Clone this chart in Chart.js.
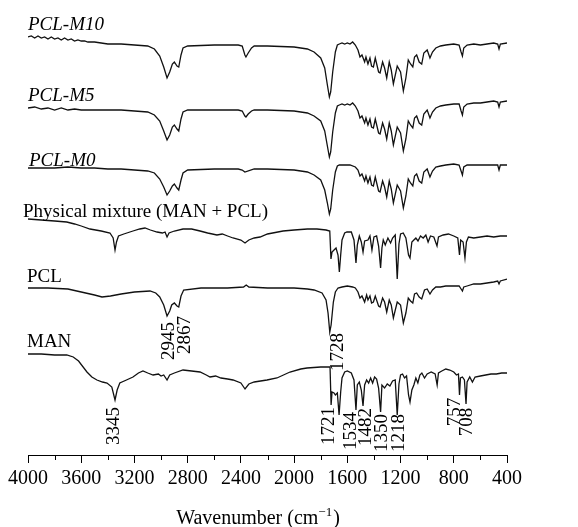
<!DOCTYPE html>
<html>
<head>
<meta charset="utf-8">
<script src="https://cdn.jsdelivr.net/npm/chart.js@4.4.1/dist/chart.umd.min.js"></script>
<style>
  html, body { margin: 0; padding: 0; background: #fff; }
  #ftir { display: block; }
</style>
</head>
<body>
<canvas id="ftir" width="578" height="527"></canvas>
<script>
// FTIR spectra, offset transmittance (arbitrary units), [wavenumber, value]
const pclM10 = [
    [4000, 418], [3975, 419], [3950, 417], [3925, 419], [3900, 417], [3875, 418], [3850, 416],
    [3825, 418], [3800, 416], [3775, 417], [3750, 415], [3725, 417], [3700, 415], [3675, 416],
    [3650, 414], [3625, 415], [3600, 414], [3575, 414], [3550, 413], [3500, 413], [3450, 412],
    [3400, 411], [3300, 411],
    [3200, 410], [3100, 409], [3050, 406], [3010, 399], [2980, 388], [2955, 377], [2935, 383],
    [2915, 391], [2900, 393], [2880, 389], [2867, 388], [2850, 400], [2835, 407], [2800, 409],
    [2600, 410], [2420, 410], [2390, 409], [2370, 400], [2362, 398], [2345, 402], [2320, 407],
    [2300, 409], [2200, 409], [2000, 408], [1900, 406], [1850, 403], [1800, 397], [1770, 387],
    [1750, 370], [1735, 358], [1725, 363], [1710, 383], [1690, 403], [1675, 410], [1660, 411],
    [1640, 412], [1620, 411], [1600, 412], [1580, 411], [1560, 413], [1540, 410], [1520, 405],
    [1505, 398], [1490, 400], [1470, 393], [1460, 398], [1445, 391], [1430, 397], [1418, 389],
    [1404, 388], [1390, 397], [1365, 383], [1354, 382], [1335, 393], [1320, 387], [1304, 377],
    [1285, 393], [1270, 385], [1254, 371], [1225, 389], [1200, 383], [1179, 364], [1160, 377],
    [1142, 395], [1125, 391], [1108, 388], [1095, 398], [1079, 400], [1060, 393], [1041, 391],
    [1025, 402], [1000, 405], [979, 397], [960, 403], [935, 407], [900, 409], [860, 410],
    [800, 411], [760, 410], [745, 403], [735, 399], [725, 407], [700, 410], [650, 411],
    [600, 410], [550, 411], [500, 412], [470, 411], [460, 406], [450, 411], [400, 412]
];

const pclM5 = [
    [4000, 347], [3950, 348], [3900, 346], [3850, 347], [3800, 345], [3750, 347], [3700, 345],
    [3650, 346], [3600, 345], [3500, 345], [3400, 345],
    [3300, 345], [3200, 344], [3100, 343], [3050, 340], [3010, 334], [2980, 324], [2955, 315],
    [2935, 320], [2915, 328], [2900, 330], [2880, 326], [2867, 324], [2850, 336], [2835, 343],
    [2800, 345], [2600, 345], [2420, 345], [2390, 344], [2370, 339], [2362, 338], [2345, 341],
    [2320, 344], [2300, 345], [2200, 345], [2000, 344], [1900, 342], [1850, 339], [1800, 334],
    [1770, 324], [1750, 309], [1735, 298], [1725, 303], [1710, 323], [1690, 342], [1675, 349],
    [1660, 350], [1640, 351], [1620, 350], [1600, 351], [1580, 350], [1560, 352], [1540, 349],
    [1520, 344], [1505, 337], [1490, 339], [1470, 332], [1460, 337], [1445, 330], [1430, 336],
    [1418, 328], [1404, 327], [1390, 336], [1365, 322], [1354, 321], [1335, 332], [1320, 326],
    [1304, 316], [1285, 332], [1270, 324], [1254, 310], [1225, 328], [1200, 322], [1179, 304],
    [1160, 316], [1142, 334], [1125, 330], [1108, 327], [1095, 337], [1079, 339], [1060, 332],
    [1041, 330], [1025, 341], [1000, 345], [979, 337], [960, 343], [935, 347], [900, 349],
    [860, 350], [800, 351], [760, 351], [745, 344], [735, 340], [725, 348], [700, 351],
    [650, 352], [600, 352], [550, 353], [500, 354], [470, 353], [460, 348], [450, 353], [400, 354]
];

const pclM0 = [
    [4000, 287], [3900, 287], [3800, 287], [3700, 288], [3600, 287], [3500, 287], [3400, 286],
    [3300, 286], [3200, 285], [3100, 284], [3050, 282], [3010, 276], [2980, 268], [2955, 260],
    [2935, 264], [2915, 269], [2900, 271], [2880, 267], [2867, 265], [2850, 275], [2835, 282],
    [2800, 285], [2600, 286], [2420, 286], [2390, 285], [2370, 283], [2300, 286], [2200, 286],
    [2000, 285], [1900, 283], [1850, 280], [1800, 275], [1770, 265], [1750, 252], [1735, 241],
    [1725, 246], [1710, 265], [1690, 283], [1675, 289], [1660, 290], [1620, 290], [1580, 290],
    [1540, 288], [1520, 285], [1505, 279], [1490, 281], [1470, 274], [1460, 279], [1445, 272],
    [1430, 278], [1418, 270], [1404, 269], [1390, 278], [1365, 264], [1354, 263], [1335, 274],
    [1320, 268], [1304, 258], [1285, 274], [1270, 266], [1254, 252], [1225, 270], [1200, 264],
    [1179, 247], [1160, 259], [1142, 276], [1125, 272], [1108, 269], [1095, 279], [1079, 281],
    [1060, 274], [1041, 272], [1025, 283], [1000, 286], [979, 278], [960, 284], [935, 288],
    [900, 289], [860, 290], [800, 291], [760, 290], [745, 284], [735, 280], [725, 288],
    [700, 290], [600, 290], [500, 290], [470, 290], [460, 285], [450, 290], [400, 290]
];

const physicalMixture = [
    [4000, 236], [3900, 235], [3800, 234], [3709, 233], [3650, 231], [3600, 229], [3534, 226],
    [3450, 224], [3384, 222], [3360, 217], [3346, 205], [3335, 213], [3320, 219], [3280, 221],
    [3211, 224], [3160, 226], [3121, 227], [3080, 225], [3030, 223], [2990, 222], [2970, 223],
    [2955, 218], [2940, 222], [2900, 224], [2835, 226], [2770, 226], [2707, 224], [2650, 222],
    [2580, 220], [2540, 221], [2500, 219], [2459, 217], [2400, 215], [2369, 212], [2340, 215],
    [2300, 217], [2256, 218], [2200, 221], [2083, 224], [2000, 225], [1900, 226], [1828, 226],
    [1760, 225], [1732, 224], [1723, 196], [1715, 203], [1700, 205], [1685, 207], [1670, 200],
    [1660, 183], [1650, 200], [1640, 215], [1620, 222], [1603, 223], [1570, 223], [1550, 215],
    [1535, 192], [1525, 210], [1510, 219], [1495, 213], [1482, 203], [1470, 214], [1445, 215],
    [1430, 219], [1415, 205], [1400, 218], [1380, 219], [1365, 209], [1350, 187], [1340, 207],
    [1330, 215], [1315, 210], [1295, 217], [1275, 212], [1260, 217], [1240, 220], [1225, 176],
    [1212, 211], [1200, 221], [1180, 222], [1160, 217], [1140, 200], [1129, 197], [1115, 213],
    [1100, 215], [1085, 217], [1069, 214], [1050, 219], [1030, 217], [1010, 220], [993, 213],
    [975, 219], [950, 218], [926, 209], [915, 218], [880, 220], [840, 221], [800, 219],
    [770, 217], [757, 200], [748, 215], [730, 213], [716, 197], [705, 213], [690, 218],
    [650, 217], [600, 218], [550, 219], [500, 218], [450, 219], [400, 219]
];

const pcl = [
    [4000, 167], [3850, 167], [3700, 166], [3600, 163], [3500, 160], [3444, 158], [3380, 159],
    [3300, 161], [3200, 163], [3083, 164], [3040, 162], [3010, 158], [2980, 150], [2955, 139],
    [2935, 144], [2920, 150], [2900, 152], [2880, 149], [2867, 148], [2850, 159], [2830, 165],
    [2700, 167], [2500, 167], [2380, 168], [2360, 170], [2340, 168], [2200, 167], [2000, 167],
    [1900, 166], [1850, 165], [1790, 162], [1760, 155], [1745, 142], [1732, 123], [1722, 130],
    [1705, 153], [1690, 163], [1670, 167], [1640, 168], [1600, 169], [1560, 168], [1540, 167],
    [1520, 163], [1505, 157], [1490, 159], [1470, 153], [1455, 160], [1445, 155], [1430, 159],
    [1418, 152], [1404, 153], [1390, 159], [1365, 149], [1354, 148], [1335, 157], [1320, 153],
    [1304, 143], [1285, 155], [1270, 150], [1254, 137], [1225, 153], [1200, 150], [1179, 132],
    [1160, 142], [1142, 157], [1125, 154], [1108, 152], [1095, 161], [1079, 162], [1060, 158],
    [1041, 156], [1020, 165], [1000, 166], [979, 161], [960, 165], [935, 168], [900, 168],
    [860, 169], [800, 169], [760, 169], [745, 166], [735, 164], [725, 168], [700, 169],
    [650, 171], [600, 171], [550, 172], [500, 173], [470, 174], [460, 171], [450, 174], [400, 176]
];

const man = [
    [4000, 101], [3900, 101], [3800, 100], [3709, 100], [3660, 98], [3620, 94], [3557, 83],
    [3520, 78], [3482, 75], [3440, 73], [3406, 72], [3370, 68], [3346, 55], [3330, 65],
    [3310, 72], [3260, 75], [3211, 78], [3170, 82], [3136, 84], [3100, 82], [3060, 80],
    [3020, 81], [3000, 79], [2980, 80], [2955, 75], [2935, 80], [2900, 82], [2835, 85],
    [2770, 84], [2707, 83], [2660, 80], [2632, 78], [2590, 79], [2550, 77], [2500, 76],
    [2459, 75], [2400, 72], [2369, 66], [2340, 71], [2300, 73], [2204, 75], [2129, 77],
    [2031, 83], [1950, 86], [1903, 87], [1800, 88], [1730, 88], [1722, 50], [1715, 63],
    [1700, 62], [1690, 60], [1675, 62], [1662, 40], [1650, 63], [1640, 77], [1620, 83],
    [1600, 84], [1570, 82], [1550, 75], [1535, 45], [1525, 70], [1510, 73], [1495, 65],
    [1482, 49], [1470, 70], [1455, 75], [1440, 72], [1425, 77], [1410, 72], [1395, 78],
    [1380, 76], [1365, 67], [1350, 43], [1340, 70], [1320, 67], [1300, 71], [1280, 69],
    [1260, 74], [1240, 75], [1225, 40], [1212, 71], [1200, 80], [1185, 81], [1170, 77],
    [1155, 79], [1140, 60], [1129, 53], [1115, 65], [1100, 70], [1085, 77], [1070, 72],
    [1055, 80], [1040, 82], [1020, 77], [1000, 81], [970, 83], [940, 81], [925, 70],
    [915, 82], [890, 84], [860, 86], [830, 85], [800, 83], [780, 80], [765, 81], [757, 60],
    [750, 77], [735, 78], [720, 75], [708, 51], [700, 73], [680, 78], [660, 73], [640, 78],
    [600, 79], [560, 80], [520, 81], [480, 81], [440, 82], [400, 82]
];

const xTicks = [4000, 3600, 3200, 2800, 2400, 2000, 1600, 1200, 800, 400];
const xMinorTicks = [3800, 3400, 3000, 2600, 2200, 1800, 1400, 1000, 600];

// peak labels: text, wavenumber, value at label centre
const peakLabels = [
    ['3345', 3345, 29], ['2945', 2945, 114], ['2867', 2867, 120], ['1728', 1728, 103],
    ['1721', 1721, 29], ['1534', 1534, 24], ['1482', 1482, 28], ['1350', 1350, 22],
    ['1218', 1218, 22], ['757', 757, 43], ['708', 708, 33]
];

const seriesNames = ['PCL-M10', 'PCL-M5', 'PCL-M0', 'Physical mixture (MAN + PCL)', 'PCL', 'MAN'];
const seriesData = [pclM10, pclM5, pclM0, physicalMixture, pcl, man];

const SERIF = '"Liberation Serif", "DejaVu Serif", serif';

// label placement: left x (px), baseline value, italic?
const nameLayout = [
    { x: 28, v: 425, italic: true },
    { x: 28, v: 354, italic: true },
    { x: 29, v: 289, italic: true },
    { x: 23, v: 238, italic: false },
    { x: 27, v: 173, italic: false },
    { x: 27, v: 108, italic: false }
];
// small horizontal nudges of peak labels, px
const peakNudge = { '3345': -2, '2867': 5, '1728': 7, '1721': -3, '1534': -6, '1482': 2, '757': -5 };

const annotatePlugin = {
    id: 'annotate',
    afterDraw(chart) {
        const { ctx, chartArea, scales } = chart;
        const xs = scales.x, ys = scales.y;
        ctx.save();
        ctx.fillStyle = '#000';
        ctx.strokeStyle = '#000';

        // minor ticks
        ctx.lineWidth = 1;
        ctx.beginPath();
        xMinorTicks.forEach(w => {
            const px = Math.round(xs.getPixelForValue(w)) + 0.5;
            ctx.moveTo(px, chartArea.bottom);
            ctx.lineTo(px, chartArea.bottom + 5);
        });
        ctx.stroke();

        // series names
        ctx.textBaseline = 'alphabetic';
        ctx.textAlign = 'left';
        seriesNames.forEach((name, i) => {
            const l = nameLayout[i];
            ctx.font = (l.italic ? 'italic ' : '') + '19px ' + SERIF;
            ctx.fillText(name, l.x, ys.getPixelForValue(l.v));
        });

        // peak labels, rotated
        ctx.font = '19px ' + SERIF;
        ctx.textAlign = 'center';
        ctx.textBaseline = 'middle';
        peakLabels.forEach(([txt, w, v]) => {
            const px = xs.getPixelForValue(w) + (peakNudge[txt] || 0);
            const py = ys.getPixelForValue(v);
            ctx.save();
            ctx.translate(px, py);
            ctx.rotate(-Math.PI / 2);
            ctx.fillText(txt, 0, 1);
            ctx.restore();
        });

        // axis title with superscript
        const main = 'Wavenumber (cm';
        const sup = '\u22121';
        const tail = ')';
        ctx.textAlign = 'left';
        ctx.textBaseline = 'alphabetic';
        ctx.font = '20px ' + SERIF;
        const wMain = ctx.measureText(main).width;
        const wTail = ctx.measureText(tail).width;
        ctx.font = '13px ' + SERIF;
        const wSup = ctx.measureText(sup).width;
        const total = wMain + wSup + 1 + wTail;
        let x0 = 258 - total / 2;
        const base = 524;
        ctx.font = '20px ' + SERIF;
        ctx.fillText(main, x0, base);
        ctx.font = '13px ' + SERIF;
        ctx.fillText(sup, x0 + wMain, base - 8);
        ctx.font = '20px ' + SERIF;
        ctx.fillText(tail, x0 + wMain + wSup + 1, base);
        ctx.restore();
    }
};

new Chart(document.getElementById('ftir'), {
    type: 'line',
    data: {
        datasets: seriesData.map((s, i) => ({
            label: seriesNames[i],
            data: s.map(p => ({ x: p[0], y: p[1] })),
            borderColor: '#111',
            borderWidth: 1.3,
            pointRadius: 0,
            tension: 0,
            fill: false
        }))
    },
    options: {
        responsive: false,
        animation: false,
        layout: { padding: { left: 28, right: 71, top: 0, bottom: 32 } },
        plugins: { legend: { display: false }, tooltip: { enabled: false } },
        scales: {
            x: {
                type: 'linear',
                reverse: true,
                min: 400,
                max: 4000,
                afterBuildTicks: (axis) => { axis.ticks = xTicks.map(v => ({ value: v })); },
                ticks: {
                    color: '#000',
                    font: { family: SERIF, size: 20, lineHeight: 1.1 },
                    padding: 5,
                    maxRotation: 0,
                    autoSkip: false,
                    callback: (v) => String(v)
                },
                grid: { drawOnChartArea: false, drawTicks: true, tickLength: 8, color: '#000', lineWidth: 1 },
                border: { display: true, color: '#000', width: 1 }
            },
            y: { display: false, min: 0, max: 455 }
        }
    },
    plugins: [annotatePlugin]
});
</script>
</body>
</html>
